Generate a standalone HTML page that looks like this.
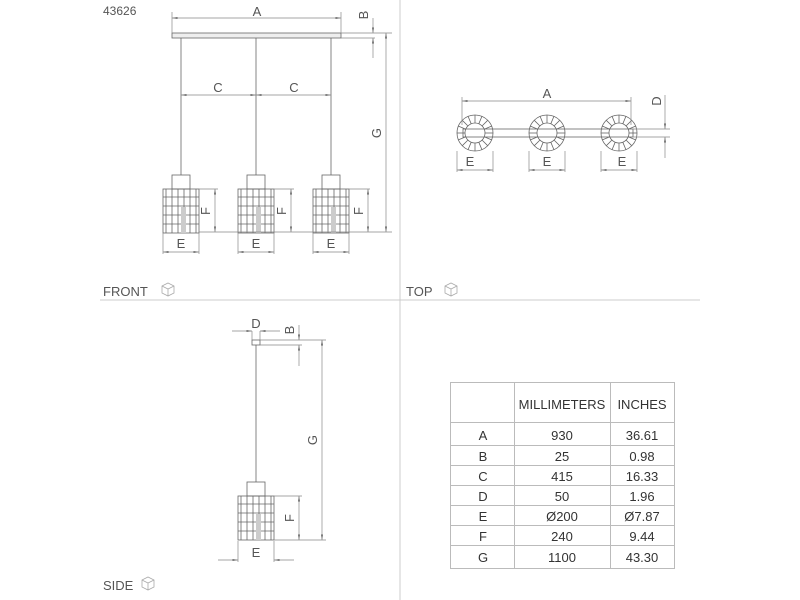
<!DOCTYPE html>
<html><head><style>
html,body{margin:0;padding:0;background:#fff;}
svg{display:block;font-family:"Liberation Sans",sans-serif;}
text{fill:#555;}
</style></head><body>
<svg width="800" height="600" viewBox="0 0 800 600">
<defs>
<marker id="ar" markerWidth="8" markerHeight="6" refX="8" refY="3" orient="auto-start-reverse"><path d="M0,1.5 L8,3 L0,4.5 z" fill="#666"/></marker>
<g id="cage" stroke="#666" fill="none" stroke-width="0.8">
<rect x="0" y="0" width="36" height="44"/>
<line x1="3" y1="0" x2="3" y2="44"/><line x1="9" y1="0" x2="9" y2="44"/><line x1="15" y1="0" x2="15" y2="44"/><line x1="21" y1="0" x2="21" y2="44"/><line x1="27" y1="0" x2="27" y2="44"/><line x1="33" y1="0" x2="33" y2="44"/>
<line x1="0" y1="8" x2="36" y2="8"/><line x1="0" y1="17" x2="36" y2="17"/><line x1="0" y1="26" x2="36" y2="26"/><line x1="0" y1="35" x2="36" y2="35"/>
<rect x="18" y="18" width="5" height="26" fill="#ccc" stroke="none"/>
</g>
<g id="ring" stroke="#666" fill="none" stroke-width="0.8">
<circle r="18"/><circle r="10"/>
<line x1="10" y1="0" x2="18" y2="0"/><line x1="-10" y1="0" x2="-18" y2="0"/><line x1="0" y1="10" x2="0" y2="18"/><line x1="0" y1="-10" x2="0" y2="-18"/>
<line x1="7" y1="7" x2="12.7" y2="12.7"/><line x1="-7" y1="7" x2="-12.7" y2="12.7"/><line x1="7" y1="-7" x2="12.7" y2="-12.7"/><line x1="-7" y1="-7" x2="-12.7" y2="-12.7"/>
<line x1="9.2" y1="3.8" x2="16.6" y2="6.9"/><line x1="-9.2" y1="3.8" x2="-16.6" y2="6.9"/><line x1="9.2" y1="-3.8" x2="16.6" y2="-6.9"/><line x1="-9.2" y1="-3.8" x2="-16.6" y2="-6.9"/>
<line x1="3.8" y1="9.2" x2="6.9" y2="16.6"/><line x1="-3.8" y1="9.2" x2="-6.9" y2="16.6"/><line x1="3.8" y1="-9.2" x2="6.9" y2="-16.6"/><line x1="-3.8" y1="-9.2" x2="-6.9" y2="-16.6"/>
</g>
</defs>
<g stroke="#ccc" stroke-width="1"><line x1="400" y1="0" x2="400" y2="600"/><line x1="100" y1="300" x2="700" y2="300"/></g>
<text x="103" y="15" font-size="12">43626</text>
<text x="103" y="296" font-size="13">FRONT</text>
<text x="406" y="296" font-size="13">TOP</text>
<text x="103" y="590" font-size="13">SIDE</text>
<g stroke="#aaa" fill="none" stroke-width="0.8">
<path d="M162,286 l6,-3 l6,3 v7 l-6,3 l-6,-3z M162,286 l6,3 l6,-3 M168,289 v7"/>
<path d="M445,286 l6,-3 l6,3 v7 l-6,3 l-6,-3z M445,286 l6,3 l6,-3 M451,289 v7"/>
<path d="M142,580 l6,-3 l6,3 v7 l-6,3 l-6,-3z M142,580 l6,3 l6,-3 M148,583 v7"/>
</g>
<!-- FRONT -->
<g stroke="#666" fill="none" stroke-width="0.8">
<rect x="172" y="33" width="169" height="5" fill="#eee"/>
<line x1="181" y1="38" x2="181" y2="175"/><line x1="256" y1="38" x2="256" y2="175"/><line x1="331" y1="38" x2="331" y2="175"/>
<rect x="172" y="175" width="18" height="14"/><rect x="247" y="175" width="18" height="14"/><rect x="322" y="175" width="18" height="14"/>
</g>
<use href="#cage" x="163" y="189"/><use href="#cage" x="238" y="189"/><use href="#cage" x="313" y="189"/>
<g stroke="#888" stroke-width="0.7" fill="none">
<line x1="172" y1="12" x2="172" y2="33"/><line x1="341" y1="12" x2="341" y2="33"/>
<line x1="172" y1="18" x2="341" y2="18" marker-start="url(#ar)" marker-end="url(#ar)"/>
<line x1="341" y1="33" x2="392" y2="33"/><line x1="341" y1="38" x2="375" y2="38"/>
<line x1="373" y1="18" x2="373" y2="33" marker-end="url(#ar)"/><line x1="373" y1="58" x2="373" y2="38" marker-end="url(#ar)"/>
<line x1="386" y1="33" x2="386" y2="232" marker-start="url(#ar)" marker-end="url(#ar)"/>
<line x1="181" y1="95" x2="256" y2="95" marker-start="url(#ar)" marker-end="url(#ar)"/>
<line x1="256" y1="95" x2="331" y2="95" marker-start="url(#ar)" marker-end="url(#ar)"/>
<line x1="199" y1="189" x2="218" y2="189"/><line x1="199" y1="232" x2="392" y2="232"/>
<line x1="274" y1="189" x2="294" y2="189"/><line x1="349" y1="189" x2="370" y2="189"/>
<line x1="215" y1="189" x2="215" y2="232" marker-start="url(#ar)" marker-end="url(#ar)"/>
<line x1="291" y1="189" x2="291" y2="232" marker-start="url(#ar)" marker-end="url(#ar)"/>
<line x1="368" y1="189" x2="368" y2="232" marker-start="url(#ar)" marker-end="url(#ar)"/>
<line x1="163" y1="233" x2="163" y2="254"/><line x1="199" y1="233" x2="199" y2="254"/>
<line x1="238" y1="233" x2="238" y2="254"/><line x1="274" y1="233" x2="274" y2="254"/>
<line x1="313" y1="233" x2="313" y2="254"/><line x1="349" y1="233" x2="349" y2="254"/>
<line x1="163" y1="252" x2="199" y2="252" marker-start="url(#ar)" marker-end="url(#ar)"/>
<line x1="238" y1="252" x2="274" y2="252" marker-start="url(#ar)" marker-end="url(#ar)"/>
<line x1="313" y1="252" x2="349" y2="252" marker-start="url(#ar)" marker-end="url(#ar)"/>
</g>
<g font-size="13" text-anchor="middle">
<text x="257" y="16">A</text><text x="218" y="92">C</text><text x="294" y="92">C</text>
<text x="181" y="248">E</text><text x="256" y="248">E</text><text x="331" y="248">E</text>
<text transform="translate(368,15) rotate(-90)">B</text>
<text transform="translate(381,133) rotate(-90)">G</text>
<text transform="translate(210,211) rotate(-90)">F</text>
<text transform="translate(286,211) rotate(-90)">F</text>
<text transform="translate(363,211) rotate(-90)">F</text>
</g>
<!-- TOP -->
<use href="#ring" x="475" y="133"/><use href="#ring" x="547" y="133"/><use href="#ring" x="619" y="133"/>
<g stroke="#666" fill="none" stroke-width="0.8">
<rect x="463" y="129" width="170" height="8"/>
</g>
<g stroke="#888" stroke-width="0.7" fill="none">
<line x1="462" y1="97" x2="462" y2="125"/><line x1="631" y1="97" x2="631" y2="125"/>
<line x1="462" y1="101" x2="631" y2="101" marker-start="url(#ar)" marker-end="url(#ar)"/>
<line x1="633" y1="129" x2="670" y2="129"/><line x1="633" y1="137" x2="670" y2="137"/>
<line x1="665" y1="95" x2="665" y2="129" marker-end="url(#ar)"/><line x1="665" y1="158" x2="665" y2="137" marker-end="url(#ar)"/>
<line x1="457" y1="151" x2="457" y2="172"/><line x1="493" y1="151" x2="493" y2="172"/>
<line x1="529" y1="151" x2="529" y2="172"/><line x1="565" y1="151" x2="565" y2="172"/>
<line x1="601" y1="151" x2="601" y2="172"/><line x1="637" y1="151" x2="637" y2="172"/>
<line x1="457" y1="170" x2="493" y2="170" marker-start="url(#ar)" marker-end="url(#ar)"/>
<line x1="529" y1="170" x2="565" y2="170" marker-start="url(#ar)" marker-end="url(#ar)"/>
<line x1="601" y1="170" x2="637" y2="170" marker-start="url(#ar)" marker-end="url(#ar)"/>
</g>
<g font-size="13" text-anchor="middle">
<text x="547" y="98">A</text><text x="470" y="166">E</text><text x="547" y="166">E</text><text x="622" y="166">E</text>
<text transform="translate(661,101) rotate(-90)">D</text>
</g>
<!-- SIDE -->
<g stroke="#666" fill="none" stroke-width="0.8">
<rect x="252" y="340" width="8" height="5"/>
<line x1="256" y1="345" x2="256" y2="482"/>
<rect x="247" y="482" width="18" height="14"/>
</g>
<use href="#cage" x="238" y="496"/>
<g stroke="#888" stroke-width="0.7" fill="none">
<line x1="232" y1="331" x2="252" y2="331" marker-end="url(#ar)"/><line x1="280" y1="331" x2="260" y2="331" marker-end="url(#ar)"/>
<line x1="252" y1="331" x2="252" y2="340"/><line x1="260" y1="331" x2="260" y2="340"/>
<line x1="260" y1="340" x2="326" y2="340"/><line x1="260" y1="345" x2="302" y2="345"/>
<line x1="299" y1="325" x2="299" y2="340" marker-end="url(#ar)"/><line x1="299" y1="366" x2="299" y2="345" marker-end="url(#ar)"/>
<line x1="322" y1="340" x2="322" y2="540" marker-start="url(#ar)" marker-end="url(#ar)"/>
<line x1="274" y1="496" x2="302" y2="496"/><line x1="274" y1="540" x2="326" y2="540"/>
<line x1="299" y1="496" x2="299" y2="540" marker-start="url(#ar)" marker-end="url(#ar)"/>
<line x1="238" y1="541" x2="238" y2="562"/><line x1="274" y1="541" x2="274" y2="562"/>
<line x1="218" y1="560" x2="238" y2="560" marker-end="url(#ar)"/><line x1="294" y1="560" x2="274" y2="560" marker-end="url(#ar)"/>
</g>
<g font-size="13" text-anchor="middle">
<text x="256" y="328">D</text><text x="256" y="557">E</text>
<text transform="translate(294,330) rotate(-90)">B</text>
<text transform="translate(317,440) rotate(-90)">G</text>
<text transform="translate(294,518) rotate(-90)">F</text>
</g>
<!-- TABLE -->
<g stroke="#bbb" stroke-width="1" fill="none">
<rect x="450.5" y="382.5" width="224" height="186"/>
<line x1="514.5" y1="382" x2="514.5" y2="569"/><line x1="610.5" y1="382" x2="610.5" y2="569"/>
<line x1="450" y1="422.5" x2="675" y2="422.5"/><line x1="450" y1="445.5" x2="675" y2="445.5"/>
<line x1="450" y1="465.5" x2="675" y2="465.5"/><line x1="450" y1="485.5" x2="675" y2="485.5"/>
<line x1="450" y1="505.5" x2="675" y2="505.5"/><line x1="450" y1="525.5" x2="675" y2="525.5"/>
<line x1="450" y1="545.5" x2="675" y2="545.5"/>
</g>
<g font-size="13" text-anchor="middle" style="fill:#333">
<text x="562" y="409" style="fill:#333">MILLIMETERS</text><text x="642" y="409" style="fill:#333">INCHES</text>
<text x="483" y="440" style="fill:#333">A</text><text x="562" y="440" style="fill:#333">930</text><text x="642" y="440" style="fill:#333">36.61</text>
<text x="483" y="461" style="fill:#333">B</text><text x="562" y="461" style="fill:#333">25</text><text x="642" y="461" style="fill:#333">0.98</text>
<text x="483" y="481" style="fill:#333">C</text><text x="562" y="481" style="fill:#333">415</text><text x="642" y="481" style="fill:#333">16.33</text>
<text x="483" y="501" style="fill:#333">D</text><text x="562" y="501" style="fill:#333">50</text><text x="642" y="501" style="fill:#333">1.96</text>
<text x="483" y="521" style="fill:#333">E</text><text x="562" y="521" style="fill:#333">Ø200</text><text x="642" y="521" style="fill:#333">Ø7.87</text>
<text x="483" y="541" style="fill:#333">F</text><text x="562" y="541" style="fill:#333">240</text><text x="642" y="541" style="fill:#333">9.44</text>
<text x="483" y="562" style="fill:#333">G</text><text x="562" y="562" style="fill:#333">1100</text><text x="642" y="562" style="fill:#333">43.30</text>
</g>
</svg>
</body></html>
